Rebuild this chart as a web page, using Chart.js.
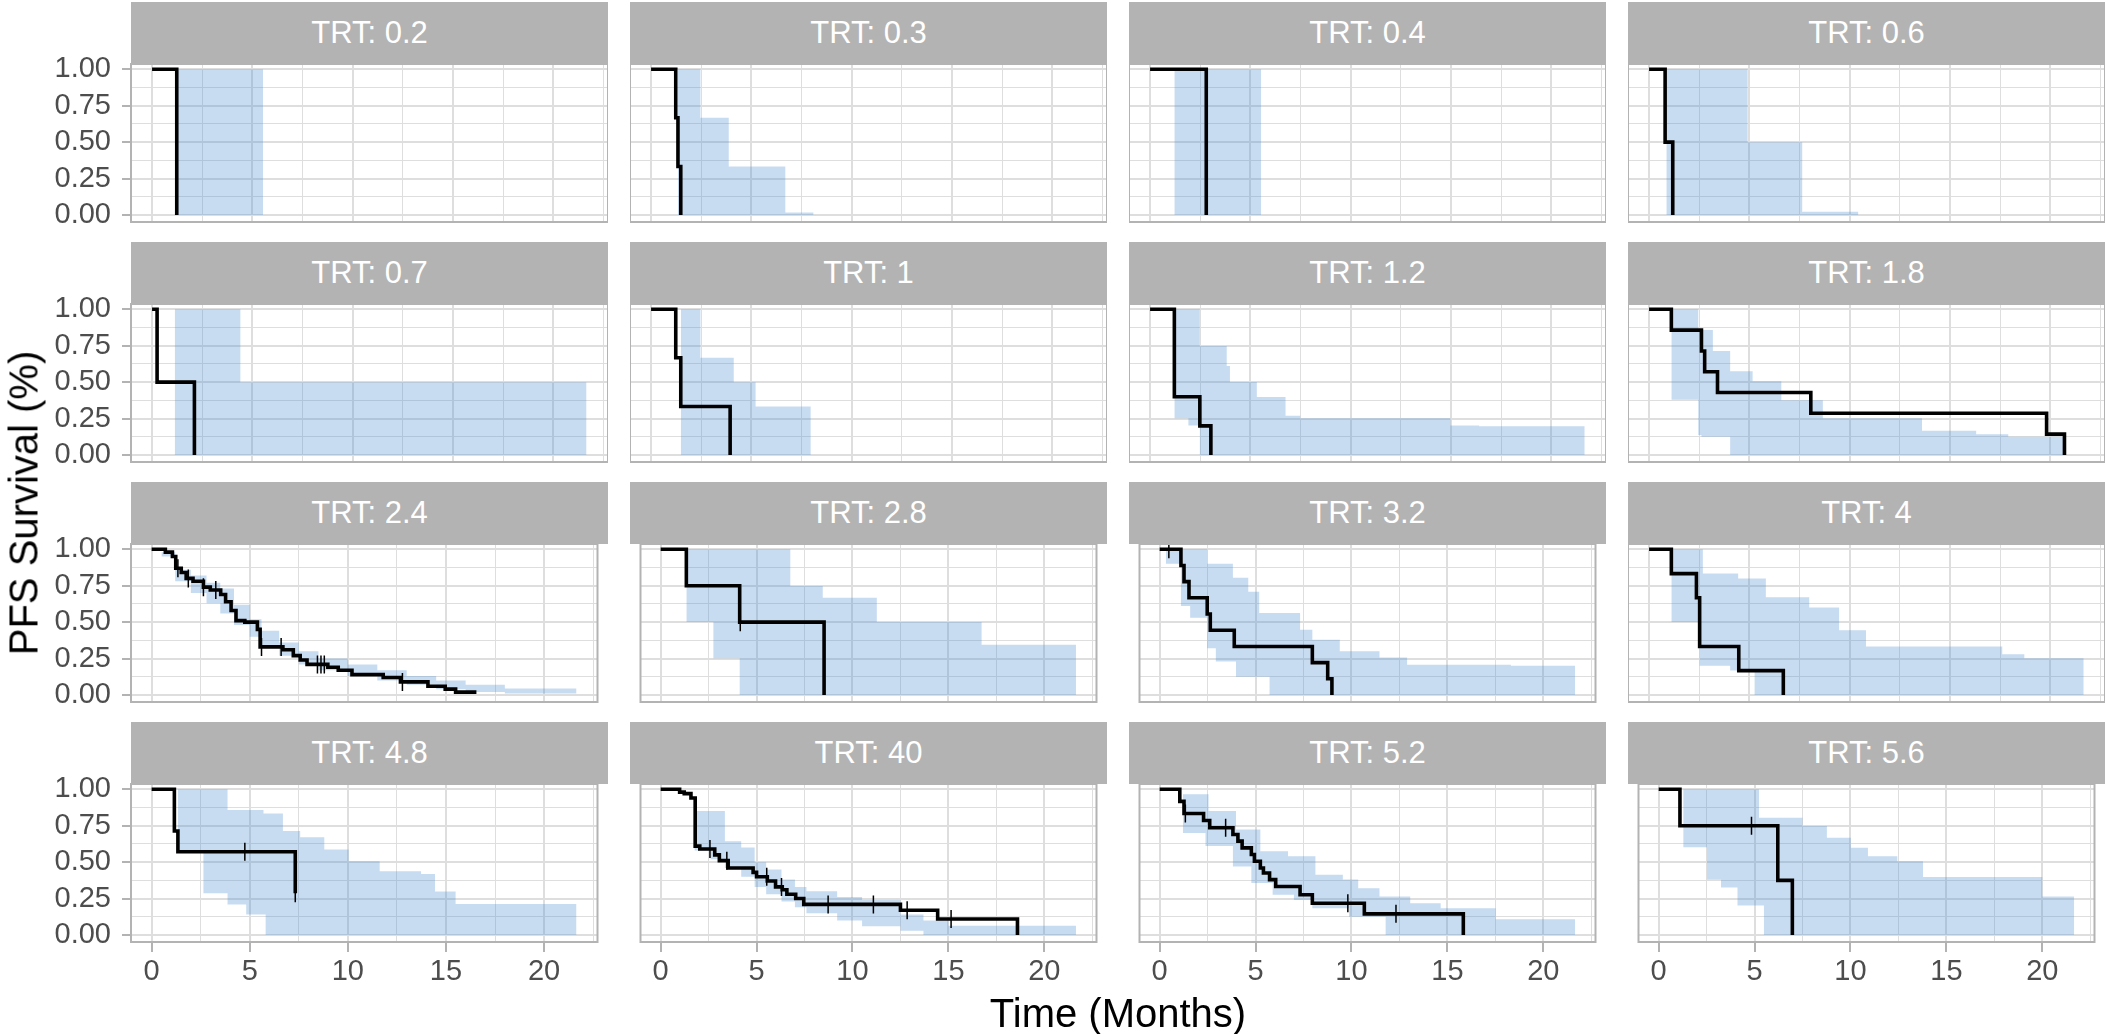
<!DOCTYPE html>
<html>
<head>
<meta charset="utf-8">
<title>PFS survival by TRT</title>
<script src="https://cdn.jsdelivr.net/npm/chart.js@4.4.0/dist/chart.umd.min.js"></script>
<style>
body { margin: 0; background: #fff; font-family: "Liberation Sans", Arial, sans-serif; }
#fig { position: relative; width: 2105px; height: 1034px; overflow: hidden; background: #fff; }
.strip { position: absolute; background: #b3b3b3; color: #fff; font-size: 31px; text-align: center; }
.box { position: absolute; }
.title { position: absolute; font-size: 40px; color: #000; white-space: nowrap; transform: translate(-50%, -50%); }
</style>
</head>
<body>
<div id="fig"></div>
<script>
'use strict';
let trt = ['0.2', '0.3', '0.4', '0.6', '0.7', '1', '1.2', '1.8', '2.4', '2.8', '3.2', '4', '4.8', '40', '5.2', '5.6'];
let xTicks = [0, 5, 10, 15, 20];
let xMinor = [2.5, 7.5, 12.5, 17.5, 22.5];
let yTicks = [0, 0.25, 0.5, 0.75, 1];
let yMinor = [0.125, 0.375, 0.625, 0.875];

// observed KM curve: step time (months) and survival after the step
let kmTime = [
  [0, 1.23],
  [0, 1.23, 1.34, 1.48],
  [0, 2.8],
  [0, 0.8, 1.18],
  [0, 0.25, 2.11],
  [0, 1.23, 1.48, 3.94],
  [0, 1.21, 2.48, 3.03],
  [0, 1.11, 2.61, 2.77, 3.41, 8.06, 19.81, 20.7],
  [0, 0.7, 1.06, 1.23, 1.51, 1.76, 2.11, 2.64, 2.99, 3.52, 3.77, 4.05, 4.3, 4.75, 5.39, 5.53, 6.69, 7.22, 7.57, 7.92, 8.98, 9.51, 10.21, 11.8, 12.68, 14.08, 14.96, 15.49, 16.55],
  [0, 1.34, 4.12, 8.52],
  [0, 1.11, 1.27, 1.53, 2.48, 2.64, 3.89, 7.96, 8.76, 8.98],
  [0, 1.11, 2.36, 2.52, 4.47, 6.69],
  [0, 1.16, 1.34, 7.32],
  [0, 0.99, 1.23, 1.58, 1.8, 2.04, 2.82, 3.06, 3.52, 4.82, 5.0, 5.56, 5.99, 6.34, 6.58, 7.04, 7.46, 12.5, 14.44, 18.6],
  [0, 1.05, 1.27, 2.29, 2.61, 3.82, 4.08, 4.3, 4.78, 4.94, 5.25, 5.41, 5.73, 6.05, 7.32, 7.96, 10.67, 15.83],
  [0, 1.11, 6.21, 6.97]
];
let kmSurv = [
  [1, 0],
  [1, 0.667, 0.333, 0],
  [1, 0],
  [1, 0.5, 0],
  [1, 0.5, 0],
  [1, 0.667, 0.333, 0],
  [1, 0.4, 0.2, 0],
  [1, 0.857, 0.714, 0.571, 0.429, 0.286, 0.143, 0],
  [1, 0.98, 0.95, 0.87, 0.84, 0.8, 0.78, 0.74, 0.72, 0.69, 0.64, 0.58, 0.51, 0.5, 0.45, 0.33, 0.31, 0.27, 0.24, 0.21, 0.19, 0.17, 0.14, 0.12, 0.09, 0.06, 0.04, 0.02, 0.02],
  [1, 0.75, 0.5, 0],
  [1, 0.889, 0.778, 0.667, 0.556, 0.444, 0.333, 0.222, 0.111, 0],
  [1, 0.833, 0.667, 0.333, 0.167, 0],
  [1, 0.714, 0.571, 0.286],
  [1, 0.98, 0.97, 0.94, 0.61, 0.59, 0.55, 0.51, 0.46, 0.43, 0.4, 0.37, 0.33, 0.31, 0.28, 0.25, 0.21, 0.17, 0.11, 0],
  [1, 0.917, 0.834, 0.786, 0.736, 0.69, 0.644, 0.598, 0.552, 0.506, 0.46, 0.425, 0.38, 0.333, 0.276, 0.218, 0.145, 0],
  [1, 0.75, 0.375, 0]
];

// censored observations
let censorTime = [[], [], [], [], [], [], [], [],
  [1.34, 1.87, 2.64, 3.27, 5.6, 6.6, 8.45, 8.63, 8.8, 12.78],
  [4.15],
  [0.48],
  [],
  [4.75, 7.32],
  [2.57, 3.45, 5.53, 6.3, 8.73, 11.09, 12.85, 15.14],
  [1.34, 3.44, 9.81, 12.32],
  [4.84]
];
let censorSurv = [[], [], [], [], [], [], [], [],
  [0.87, 0.8, 0.74, 0.72, 0.33, 0.33, 0.21, 0.21, 0.21, 0.09],
  [0.5],
  [1],
  [],
  [0.571, 0.286],
  [0.59, 0.51, 0.4, 0.33, 0.21, 0.21, 0.17, 0.11],
  [0.834, 0.736, 0.218, 0.145],
  [0.75]
];

// simulated interval (blue ribbon), step values from each time on
let bandTime = [
  [1.23, 5.53],
  [1.34, 2.46, 3.87, 6.69, 8.1],
  [1.21, 5.54],
  [0.86, 4.91, 7.63, 10.43],
  [1.13, 4.4, 21.65],
  [1.48, 2.46, 4.12, 5.21, 7.96],
  [1.21, 1.91, 2.48, 3.82, 3.98, 5.32, 6.75, 7.48, 14.97, 16.4, 21.66],
  [1.11, 2.45, 2.61, 3.18, 4.04, 5.16, 6.59, 8.66, 13.6, 16.3, 17.9, 20.76],
  [0.5, 1.2, 2.0, 2.8, 3.5, 4.2, 5.0, 5.6, 6.5, 7.5, 8.5, 10, 11.5, 13, 14.5, 16, 18, 21.65],
  [1.34, 2.75, 4.12, 6.76, 8.45, 11.27, 16.73, 21.65],
  [0.32, 1.11, 1.59, 2.48, 2.93, 3.82, 3.98, 4.62, 5.19, 5.73, 7.32, 7.96, 9.39, 11.46, 12.9, 18.31, 21.66],
  [1.11, 2.52, 2.68, 4.04, 4.44, 5.26, 5.82, 7.98, 9.47, 10.81, 17.6, 18.7, 21.66],
  [1.34, 2.64, 3.87, 4.82, 5.7, 5.81, 6.69, 7.57, 8.8, 10.04, 11.62, 13.73, 14.44, 15.49, 21.65],
  [1.76, 2.6, 3.35, 4.2, 4.9, 5.5, 6.3, 7.0, 7.6, 9.2, 10.5, 12.5, 13.7, 15.0, 21.65],
  [1.21, 2.39, 2.55, 3.82, 3.98, 4.78, 5.25, 5.89, 6.69, 7.0, 7.96, 8.12, 9.55, 9.87, 10.35, 11.46, 11.78, 13.06, 14.65, 17.52, 21.66],
  [1.28, 2.52, 3.25, 4.11, 5.23, 5.49, 7.5, 8.77, 10.02, 10.91, 12.44, 13.78, 20.0, 21.66]
];
let bandHigh = [
  [1, 1],
  [1, 0.667, 0.333, 0.018, 0.018],
  [1, 1],
  [1, 0.5, 0.023, 0.023],
  [1, 0.5, 0.5],
  [1, 0.667, 0.5, 0.333, 0.333],
  [1, 1, 0.747, 0.61, 0.501, 0.398, 0.269, 0.253, 0.202, 0.198, 0.198],
  [1, 0.857, 0.857, 0.713, 0.575, 0.506, 0.375, 0.253, 0.166, 0.143, 0.126, 0.126],
  [0.98, 0.86, 0.82, 0.77, 0.73, 0.62, 0.52, 0.44, 0.36, 0.3, 0.25, 0.21, 0.17, 0.13, 0.1, 0.07, 0.045, 0.045],
  [1, 1, 1, 0.747, 0.667, 0.501, 0.345, 0.345],
  [1, 1, 1, 0.9, 0.9, 0.805, 0.805, 0.708, 0.563, 0.563, 0.448, 0.379, 0.3, 0.257, 0.207, 0.2, 0.2],
  [1, 1, 0.834, 0.834, 0.8, 0.8, 0.67, 0.6, 0.444, 0.333, 0.28, 0.253, 0.253],
  [1, 1, 0.857, 0.857, 0.834, 0.834, 0.713, 0.67, 0.586, 0.506, 0.437, 0.418, 0.299, 0.212, 0.212],
  [0.85, 0.85, 0.644, 0.6, 0.5, 0.45, 0.38, 0.33, 0.3, 0.26, 0.24, 0.14, 0.1, 0.064, 0.064],
  [0.966, 0.966, 0.85, 0.85, 0.724, 0.724, 0.575, 0.575, 0.54, 0.54, 0.54, 0.414, 0.38, 0.38, 0.32, 0.264, 0.264, 0.218, 0.184, 0.108, 0.108],
  [1, 1, 1, 1, 0.805, 0.805, 0.747, 0.667, 0.598, 0.54, 0.506, 0.398, 0.264, 0.264]
];
let bandLow = [
  [0, 0],
  [0, 0, 0, 0, 0],
  [0, 0],
  [0, 0, 0, 0],
  [0, 0, 0],
  [0, 0, 0, 0, 0],
  [0.253, 0.202, 0, 0, 0, 0, 0, 0, 0, 0, 0],
  [0.379, 0.138, 0.126, 0.126, 0, 0, 0, 0, 0, 0, 0, 0],
  [0.95, 0.78, 0.7, 0.63, 0.56, 0.48, 0.4, 0.33, 0.27, 0.21, 0.17, 0.13, 0.1, 0.07, 0.04, 0.02, 0.01, 0.01],
  [0.501, 0.253, 0, 0, 0, 0, 0, 0],
  [0.9, 0.61, 0.53, 0.32, 0.23, 0.23, 0.126, 0.126, 0.126, 0, 0, 0, 0, 0, 0, 0, 0],
  [0.501, 0.2, 0.2, 0.168, 0.168, 0, 0, 0, 0, 0, 0, 0, 0],
  [0.575, 0.287, 0.21, 0.14, 0.14, 0, 0, 0, 0, 0, 0, 0, 0, 0, 0],
  [0.58, 0.52, 0.46, 0.4, 0.33, 0.28, 0.23, 0.19, 0.15, 0.1, 0.06, 0.03, 0, 0, 0],
  [0.7, 0.61, 0.61, 0.47, 0.47, 0.356, 0.356, 0.276, 0.276, 0.241, 0.184, 0.184, 0.184, 0.126, 0.126, 0.126, 0, 0, 0, 0, 0],
  [0.602, 0.379, 0.326, 0.202, 0.202, 0, 0, 0, 0, 0, 0, 0, 0, 0]
];

// layout of the facet grid (page pixels)
let colLeft = [131, 630, 1129, 1628];
let stripTop = [2, 242, 482, 722];
let panelW = 477;
let stripH = 62;
let plotH = 158;
let yAxisW = 131;
let xAxisH = 70;
let gridColor = '#dedede';
let borderColor = '#b3b3b3';
let bandColor = 'rgba(70, 140, 210, 0.3)';
let tickFont = { family: 'Liberation Sans', size: 29 };

let fig = document.getElementById('fig');

let panelBorder = {
  id: 'panelBorder',
  afterDraw(chart) {
    let a = chart.chartArea;
    let ctx = chart.ctx;
    ctx.save();
    ctx.strokeStyle = borderColor;
    ctx.lineWidth = 2;
    ctx.strokeRect(a.left, a.top, a.right - a.left, a.bottom - a.top);
    ctx.restore();
  }
};

function points(xs, ys) {
  return xs.map((x, j) => ({ x: x, y: ys[j] }));
}

function gridOpts(major, showTicks, len) {
  return {
    drawTicks: showTicks,
    tickLength: len,
    color: gridColor,
    lineWidth: c => major.includes(c.tick.value) ? 2 : 1,
    tickColor: c => major.includes(c.tick.value) ? borderColor : 'rgba(0,0,0,0)',
    tickWidth: 2
  };
}

function makePanel(i) {
  let r = Math.floor(i / 4);
  let c = i % 4;
  let showY = c === 0;
  let showX = r === 3;
  let plotTop = stripTop[r] + stripH;
  let left = showY ? 0 : colLeft[c];
  let width = colLeft[c] + panelW - left;
  let height = 20 + plotH + (showX ? xAxisH : 20);

  let box = document.createElement('div');
  box.className = 'box';
  box.style.left = left + 'px';
  box.style.top = (plotTop - 20) + 'px';
  box.style.width = width + 'px';
  box.style.height = height + 'px';
  let canvas = document.createElement('canvas');
  canvas.width = width;
  canvas.height = height;
  canvas.style.width = width + 'px';
  canvas.style.height = height + 'px';
  box.appendChild(canvas);
  fig.appendChild(box);

  let strip = document.createElement('div');
  strip.className = 'strip';
  strip.style.left = colLeft[c] + 'px';
  strip.style.top = stripTop[r] + 'px';
  strip.style.width = panelW + 'px';
  strip.style.height = stripH + 'px';
  strip.style.lineHeight = stripH + 'px';
  strip.textContent = 'TRT: ' + trt[i];
  fig.appendChild(strip);

  new Chart(canvas.getContext('2d'), {
    type: 'line',
    data: {
      datasets: [{
        data: points(bandTime[i], bandHigh[i]),
        stepped: true,
        borderColor: 'rgba(0,0,0,0)',
        borderWidth: 0,
        pointRadius: 0,
        backgroundColor: bandColor,
        fill: '+1',
        order: 4,
        clip: 0
      }, {
        data: points(bandTime[i], bandLow[i]),
        stepped: true,
        borderColor: 'rgba(0,0,0,0)',
        borderWidth: 0,
        pointRadius: 0,
        fill: false,
        order: 3,
        clip: 0
      }, {
        data: points(kmTime[i], kmSurv[i]),
        stepped: true,
        borderColor: '#000',
        borderWidth: 3.6,
        borderCapStyle: 'butt',
        borderJoinStyle: 'miter',
        pointRadius: 0,
        fill: false,
        order: 2,
        clip: 0
      }, {
        data: points(censorTime[i], censorSurv[i]),
        showLine: false,
        pointStyle: 'line',
        pointRotation: 90,
        pointRadius: 9,
        pointBorderWidth: 1.5,
        pointBorderColor: '#000',
        borderColor: '#000',
        order: 1,
        clip: 0
      }]
    },
    options: {
      responsive: false,
      devicePixelRatio: 1,
      animation: false,
      events: [],
      layout: { padding: { top: 20, bottom: showX ? 0 : 20, left: 0, right: 0 } },
      plugins: { legend: { display: false }, tooltip: { enabled: false } },
      scales: {
        x: {
          type: 'linear',
          min: -1.05,
          max: 22.72,
          border: { display: false },
          grid: gridOpts(xTicks, showX, 10),
          ticks: {
            display: showX,
            autoSkip: false,
            maxRotation: 0,
            padding: 3,
            color: '#4d4d4d',
            font: tickFont,
            callback: v => xTicks.includes(v) ? String(v) : ''
          },
          afterBuildTicks: s => {
            s.ticks = xTicks.concat(xMinor).sort((a, b) => a - b).map(v => ({ value: v }));
          },
          afterFit: s => {
            s.height = showX ? xAxisH : 0;
            s.paddingLeft = 0;
            s.paddingRight = 0;
          }
        },
        y: {
          type: 'linear',
          min: -0.048,
          max: 1.036,
          border: { display: false },
          grid: gridOpts(yTicks, showY, 9),
          ticks: {
            display: showY,
            autoSkip: false,
            padding: 11,
            color: '#4d4d4d',
            font: tickFont,
            callback: v => yTicks.includes(v) ? v.toFixed(2) : ''
          },
          afterBuildTicks: s => {
            s.ticks = yTicks.concat(yMinor).sort((a, b) => a - b).map(v => ({ value: v }));
          },
          afterFit: s => {
            s.width = showY ? yAxisW : 0;
            s.paddingTop = 0;
            s.paddingBottom = 0;
          }
        }
      }
    },
    plugins: [panelBorder]
  });
}

for (let i = 0; i < trt.length; i++) {
  makePanel(i);
}

let yTitle = document.createElement('div');
yTitle.className = 'title';
yTitle.style.left = '24px';
yTitle.style.top = '503px';
yTitle.style.transform = 'translate(-50%, -50%) rotate(-90deg)';
yTitle.textContent = 'PFS Survival (%)';
fig.appendChild(yTitle);

let xTitle = document.createElement('div');
xTitle.className = 'title';
xTitle.style.left = '1118px';
xTitle.style.top = '1013px';
xTitle.textContent = 'Time (Months)';
fig.appendChild(xTitle);
</script>
</body>
</html>
